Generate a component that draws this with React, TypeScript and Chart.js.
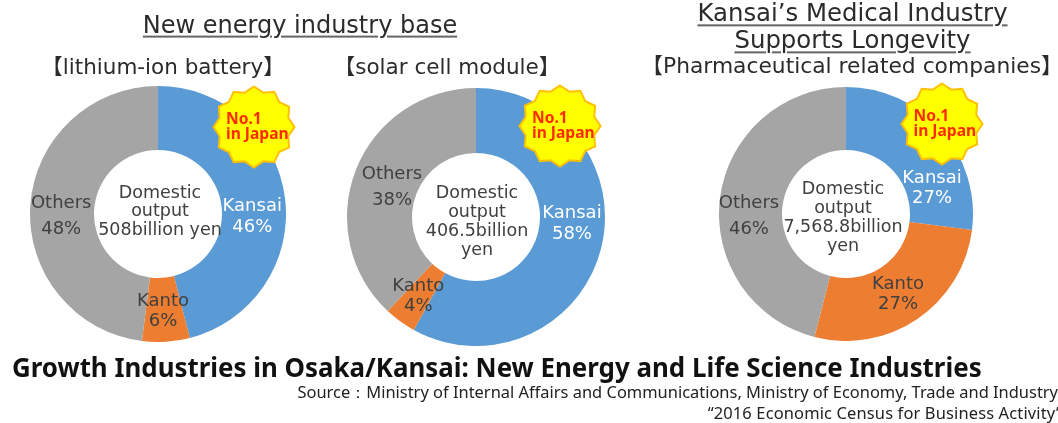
import React, { useEffect, useRef } from "react";
import { Chart, registerables } from "chart.js";

Chart.register(...registerables);

const categories = ["Kansai", "Kanto", "Others"];
const lithiumValues = [46, 6, 48];
const solarValues = [58, 4, 38];
const pharmaValues = [27, 27, 46];
const sliceColors = ["#5B9BD5", "#ED7D31", "#A5A5A5"];
const labelColors = ["#FFFFFF", "#404040", "#404040"];

const FONT = '"DejaVu Sans", "Noto Sans CJK JP", sans-serif';
const BOTTOM = '"Noto Sans", sans-serif';

type Donut = {
  values: number[];
  cx: number;
  cy: number;
  r: number;
  hole: number;
  centerLines: string[];
  centerX: number;
  centerTop: number;
  centerGap: number;
  offsets: number[][];
  gaps: number[];
};

const donuts: Donut[] = [
  { values: lithiumValues, cx: 158, cy: 214, r: 128, hole: 64, centerLines: ["Domestic", "output", "508billion yen"], centerX: 2, centerTop: -21, centerGap: 18.5, offsets: [[-1, 14.5], [-1, 2], [-1, 8]], gaps: [21, 20, 26] },
  { values: solarValues, cx: 476, cy: 217, r: 129, hole: 64, centerLines: ["Domestic", "output", "406.5billion", "yen"], centerX: 1, centerTop: -24, centerGap: 19, offsets: [[2.5, -17.5], [-1, 1], [5.7, 5.5]], gaps: [21, 20, 26] },
  { values: pharmaValues, cx: 846, cy: 214, r: 127, hole: 64, centerLines: ["Domestic", "output", "7,568.8billion", "yen"], centerX: -3, centerTop: -25, centerGap: 19, offsets: [[14.4, 37.6], [-1.7, 1], [-2.3, 14]], gaps: [19.5, 20, 26] },
];

const stars = [
  { x: 254, y: 127 },
  { x: 560, y: 125.5 },
  { x: 941.5, y: 124 },
];

function starPoints(r1: number, r2: number, n: number) {
  const pts: string[] = [];
  for (let i = 0; i < n * 2; i++) {
    const a = (Math.PI * i) / n - Math.PI / 2;
    const r = i % 2 === 0 ? r1 : r2;
    pts.push(`${(45 + r * Math.cos(a)).toFixed(1)},${(45 + r * Math.sin(a)).toFixed(1)}`);
  }
  return pts.join(" ");
}

const ringLabels = {
  id: "ringLabels",
  afterDatasetsDraw(chart: any, _a: any, opts: any) {
    const { ctx } = chart;
    const meta = chart.getDatasetMeta(0);
    const d: Donut = opts.donut;
    ctx.save();
    ctx.textAlign = "center";
    ctx.textBaseline = "middle";
    ctx.font = `18px ${FONT}`;
    meta.data.forEach((arc: any, i: number) => {
      const pos = arc.tooltipPosition();
      const x = pos.x + d.offsets[i][0];
      const y = pos.y + d.offsets[i][1];
      ctx.fillStyle = labelColors[i];
      ctx.fillText(categories[i], x, y - d.gaps[i] / 2);
      ctx.fillText(`${d.values[i]}%`, x, y + d.gaps[i] / 2);
    });
    ctx.fillStyle = "#404040";
    ctx.font = `17.5px ${FONT}`;
    const cx = chart.width / 2 + d.centerX;
    const cy = chart.height / 2 + d.centerTop;
    d.centerLines.forEach((line, i) => {
      ctx.fillText(line, cx, cy + i * d.centerGap);
    });
    ctx.restore();
  },
};

function DonutChart({ d }: { d: Donut }) {
  const ref = useRef<HTMLCanvasElement>(null);
  useEffect(() => {
    const chart = new Chart(ref.current!, {
      type: "doughnut",
      data: {
        labels: categories,
        datasets: [{ data: d.values, backgroundColor: sliceColors, borderWidth: 0 }],
      },
      options: {
        animation: false,
        responsive: false,
        cutout: d.hole,
        layout: { padding: 0 },
        plugins: {
          legend: { display: false },
          tooltip: { enabled: false },
          ringLabels: { donut: d },
        } as any,
      },
      plugins: [ringLabels],
    });
    return () => chart.destroy();
  }, []);
  return (
    <canvas
      ref={ref}
      width={d.r * 2}
      height={d.r * 2}
      style={{ position: "absolute", left: d.cx - d.r, top: d.cy - d.r, width: d.r * 2, height: d.r * 2 }}
    />
  );
}

function T(props: { x: number; y: number; size: number; text: string; bold?: boolean; under?: boolean; font?: string; color?: string; align?: string; spacing?: number }) {
  const { x, y, size, text, bold, under, font, color, align, spacing } = props;
  const tx = align === "right" ? "-100%" : align === "left" ? "0" : "-50%";
  return (
    <div
      style={{
        position: "absolute",
        left: x,
        top: y,
        transform: `translate(${tx}, -50%)`,
        fontFamily: font || FONT,
        fontSize: size,
        fontWeight: bold ? 700 : 400,
        whiteSpace: "nowrap",
        color: color || "#2b2b2b",
        letterSpacing: spacing || 0,
        textDecoration: under ? "underline" : "none",
        textDecorationColor: under ? "#666" : undefined,
        textDecorationThickness: under ? 1.5 : undefined,
        textUnderlineOffset: under ? 3 : undefined,
        lineHeight: 1.2,
      }}
    >
      {text}
    </div>
  );
}

export default function App() {
  useEffect(() => {
    document.body.style.margin = "0";
  }, []);
  return (
    <div style={{ position: "absolute", left: 0, top: 0, width: 1058, height: 423, overflow: "hidden", background: "#fff" }}>
      <div style={{ position: "absolute", inset: 0, filter: "blur(0.5px)" }}>
        {donuts.map((d, i) => (
          <DonutChart key={i} d={d} />
        ))}
        {stars.map((s, i) => (
          <React.Fragment key={i}>
            <svg width={90} height={90} style={{ position: "absolute", left: s.x - 45, top: s.y - 45 }}>
              <polygon points={starPoints(40.5, 35.5, 12)} fill="#FFFF00" stroke="#FFC000" strokeWidth={2} />
            </svg>
            <T x={s.x - 28} y={s.y - 9} size={15.6} bold text="No.1" color="#FF2A00" align="left" font={BOTTOM} />
            <T x={s.x - 28} y={s.y + 6} size={15.6} bold text="in Japan" color="#FF2A00" align="left" font={BOTTOM} />
          </React.Fragment>
        ))}
        <T x={300} y={25} size={24} text="New energy industry base" under />
        <T x={163} y={67} size={21.5} text="【lithium-ion battery】" />
        <T x={447} y={67} size={21.5} text="【solar cell module】" />
        <T x={852.5} y={13} size={24.4} text="Kansai’s Medical Industry" under />
        <T x={852.5} y={40} size={24.4} text="Supports Longevity" under />
        <T x={852} y={66} size={21.8} text="【Pharmaceutical related companies】" />
      </div>
      <T x={12} y={368} size={25.9} bold text="Growth Industries in Osaka/Kansai: New Energy and Life Science Industries" color="#111" align="left" font={BOTTOM} />
      <T x={1058} y={392} size={16.45} text="Source：Ministry of Internal Affairs and Communications, Ministry of Economy, Trade and Industry" color="#222" align="right" font={BOTTOM} />
      <T x={1062} y={413} size={16.45} spacing={0.15} text="“2016 Economic Census for Business Activity”" color="#222" align="right" font={BOTTOM} />
    </div>
  );
}
